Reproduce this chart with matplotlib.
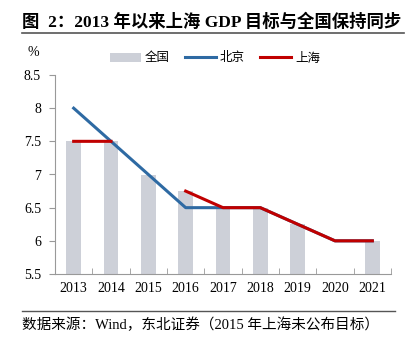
import matplotlib
matplotlib.use("Agg")
import matplotlib.pyplot as plt
from matplotlib.patches import Patch
from matplotlib.lines import Line2D
import numpy as np

years = ["2013", "2014", "2015", "2016", "2017", "2018", "2019", "2020", "2021"]
national = [7.5, 7.5, 7.0, 6.75, 6.5, 6.5, 6.25, np.nan, 6.0]
beijing = [8.0, 7.5, 7.0, 6.5, 6.5, 6.5, 6.25, 6.0, 6.0]
shanghai = [7.5, 7.5, np.nan, 6.75, 6.5, 6.5, 6.25, 6.0, 6.0]
yticks = [5.5, 6, 6.5, 7, 7.5, 8, 8.5]
ytick_labels = ["5.5", "6", "6.5", "7", "7.5", "8", "8.5"]

FAM = ["Liberation Serif", "Noto Sans CJK SC", "DejaVu Sans"]
plt.rcParams["font.family"] = FAM

fig = plt.figure(figsize=(4.12, 3.45), dpi=100)
ax = fig.add_axes([55/412, 1-274/345, (391-55)/412, (274-75)/345])

x = np.arange(len(years))
ax.bar(x, [v - 5.5 if not np.isnan(v) else 0 for v in national], bottom=5.5,
       width=0.4, color="#cdd0d8", zorder=1)
ax.plot(x, beijing, color="#2e6aa3", lw=2.2, zorder=2)
ax.plot(x, shanghai, color="#c00000", lw=2.2, zorder=3)

ax.set_xlim(-0.5, len(years) - 0.5)
ax.set_ylim(5.5, 8.5)
ax.set_yticks(yticks)
ax.set_yticklabels(ytick_labels, fontsize=10)
ax.set_xticks(x)
ax.set_xticklabels(years, fontsize=10)
ax.set_xticks(np.arange(-0.5, len(years)), minor=True)
ax.tick_params(axis="x", which="major", length=0, pad=6)
ax.tick_params(axis="x", which="minor", length=4, direction="in", color="#999999")
ax.tick_params(axis="y", length=4, direction="out", color="#999999", pad=6)
for s in ["top", "right"]:
    ax.spines[s].set_visible(False)
for s in ["left", "bottom"]:
    ax.spines[s].set_color("#999999")
    ax.spines[s].set_linewidth(0.8)

fig.text(33/412, 1-52/345, "%", fontsize=10, ha="center", va="center")

handles = [Patch(facecolor="#cdd0d8", edgecolor="none"),
           Line2D([], [], color="#2e6aa3", lw=2.2),
           Line2D([], [], color="#c00000", lw=2.2)]
fig.legend(handles, ["全国", "北京", "上海"], loc="center", bbox_to_anchor=(215/412, 1-58/345),
           ncol=3, frameon=False, handlelength=2.5, handleheight=0.7,
           columnspacing=1.2, handletextpad=0.3, prop={"family": ["Noto Sans CJK SC"], "size": 9})

fig.text(22/412, 1-22/345, "图  2：2013 年以来上海 GDP 目标与全国保持同步", fontsize=12.5,
         fontweight="bold", ha="left", va="center")
fig.add_artist(Line2D([22/412, 404/412], [1-33/345, 1-33/345], color="#555555", lw=1.2))
fig.add_artist(Line2D([22/412, 395/412], [1-311/345, 1-311/345], color="#555555", lw=1.0))
fig.text(22/412, 1-325/345, "数据来源：Wind，东北证券（2015 年上海未公布目标）", fontsize=10.5,
         ha="left", va="center")

fig.savefig("out.png", dpi=100)
